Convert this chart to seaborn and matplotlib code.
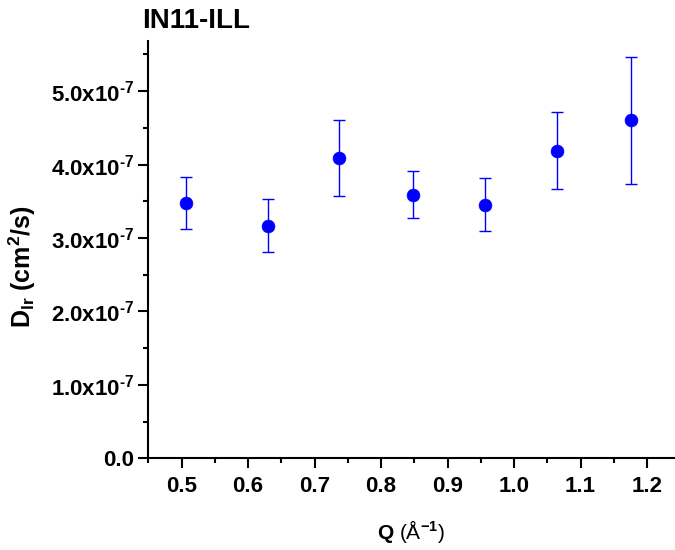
import matplotlib
matplotlib.use("Agg")
import matplotlib.pyplot as plt
import seaborn as sns
import numpy as np
import pandas as pd
from matplotlib.ticker import MultipleLocator, FuncFormatter

# Data
q_values = [0.507, 0.630, 0.737, 0.848, 0.957, 1.065, 1.176]
d_values = [3.48e-7, 3.17e-7, 4.09e-7, 3.59e-7, 3.455e-7, 4.19e-7, 4.605e-7]
d_errors = [0.355e-7, 0.36e-7, 0.52e-7, 0.32e-7, 0.365e-7, 0.52e-7, 0.865e-7]
title_text = "IN11-ILL"

df = pd.DataFrame({"Q": q_values, "D": d_values, "err": d_errors})

sns.set_theme(style="ticks")
plt.rcParams["font.family"] = ["Liberation Sans", "DejaVu Sans"]
plt.rcParams["mathtext.fontset"] = "custom"
plt.rcParams["mathtext.rm"] = "Liberation Sans:bold"
plt.rcParams["mathtext.bf"] = "Liberation Sans:bold"
plt.rcParams["mathtext.it"] = "Liberation Sans:italic"
plt.rcParams["text.color"] = "black"
plt.rcParams["axes.labelcolor"] = "black"
plt.rcParams["xtick.color"] = "black"
plt.rcParams["ytick.color"] = "black"

fig = plt.figure(figsize=(6.75, 5.5), dpi=100)
ax = fig.add_axes([148.3 / 675, 1 - 458.3 / 550, (675 - 148.3) / 675 - 0.001, (458.3 - 40.5) / 550])

ax.errorbar(df["Q"], df["D"], yerr=df["err"], fmt="none", ecolor="#0000FF",
            elinewidth=1.0, capsize=4.5, capthick=1.0, zorder=2)
sns.scatterplot(data=df, x="Q", y="D", ax=ax, color="#0000FF", edgecolor="#0000FF",
                s=85, marker="o", zorder=3, legend=False, linewidth=0.5)

ax.set_xlim(0.45, 1.241)
ax.set_ylim(0, 5.69e-7)

ax.xaxis.set_major_locator(MultipleLocator(0.1))
ax.xaxis.set_minor_locator(MultipleLocator(0.05))
ax.yaxis.set_major_locator(MultipleLocator(1e-7))
ax.yaxis.set_minor_locator(MultipleLocator(0.5e-7))

def yfmt(v, pos):
    if abs(v) < 1e-12:
        return "0.0"
    m = v / 1e-7
    return r"$\mathbf{%.1fx10}^{\text{-}\mathbf{7}}$" % m

ax.yaxis.set_major_formatter(FuncFormatter(yfmt))
ax.xaxis.set_major_formatter(FuncFormatter(lambda v, p: "%.1f" % v))

for s in ["top", "right"]:
    ax.spines[s].set_visible(False)
for s in ["left", "bottom"]:
    ax.spines[s].set_linewidth(1.5)
    ax.spines[s].set_color("black")

ax.tick_params(axis="both", which="major", direction="out", length=7, width=1.5,
               labelsize=16, colors="black", pad=3)
ax.tick_params(axis="both", which="minor", direction="out", length=3.5, width=1.5,
               colors="black")
ax.tick_params(axis="x", which="major", pad=6)
for lbl in ax.get_xticklabels() + ax.get_yticklabels():
    lbl.set_fontweight("bold")

ax.set_xlabel(r"$\mathbf{Q}$ (Å$^{-1}$)", fontsize=15, labelpad=15)
ax.set_ylabel(r"$\mathbf{D_{lr}\ (cm^{2}/s)}$", fontsize=18)
ax.yaxis.set_label_coords(-0.209, 0.458)

fig.text(142 / 675, 1 - 28 / 550, title_text, fontsize=20, fontweight="bold",
         ha="left", va="baseline")

fig.savefig("out.png", dpi=100)
